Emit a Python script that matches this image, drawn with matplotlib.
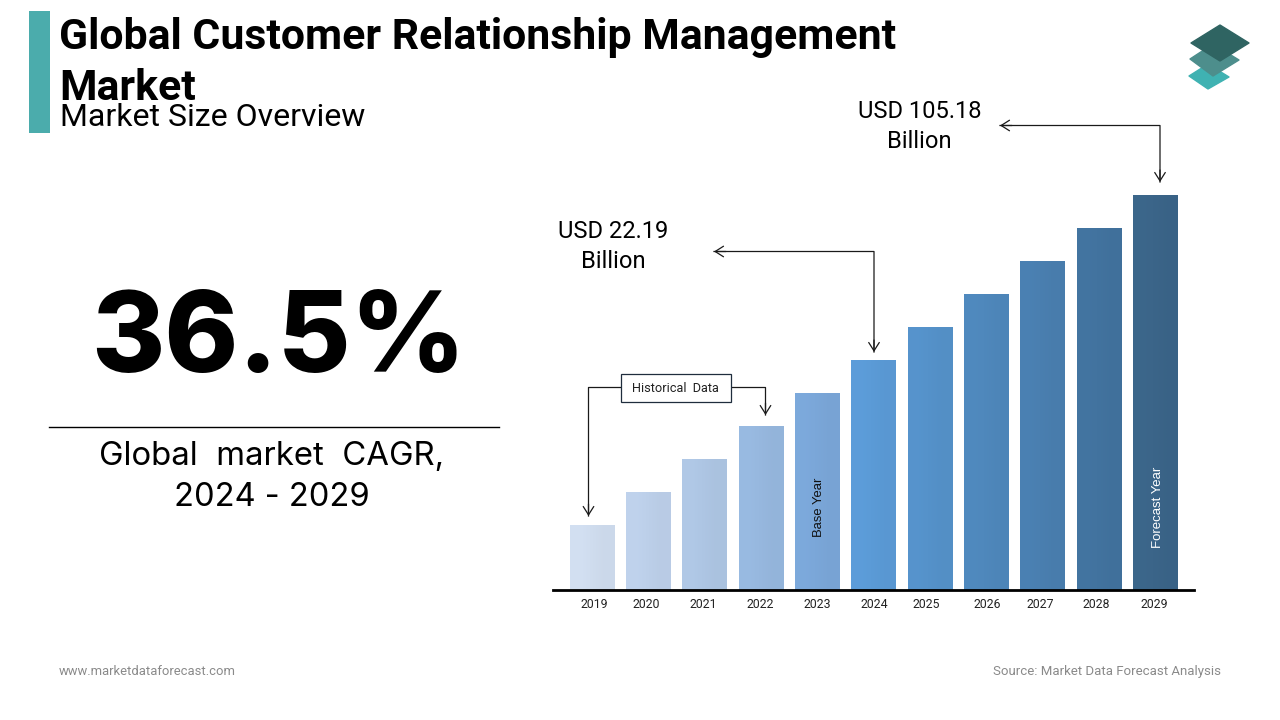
#!/usr/bin/env python3
import numpy as np
import matplotlib
matplotlib.use('Agg')
import matplotlib.pyplot as plt
from matplotlib.colors import LinearSegmentedColormap, to_rgb
from matplotlib.patches import Polygon, Rectangle

# Data
years = ['2019', '2020', '2021', '2022', '2023', '2024', '2025', '2026', '2027', '2028', '2029']
bar_heights = [65, 98, 131, 164, 197, 230, 263, 296, 329, 362, 395]
bar_colors = ['#D0DDEF', '#BDD0EA', '#AEC6E4', '#97B8DF', '#7BA7D9', '#5B9BD7',
              '#5592CA', '#4F88BC', '#4A7FB0', '#42739F', '#3B6589']
tick_shift = [2, -1.5, -1, -1, 0, 0.5, -3, 1, -2.5, -2, -1]

W, H = 1280, 720
fig = plt.figure(figsize=(12.8, 7.2), dpi=100, facecolor='white')

# Bar chart, one y unit is one pixel
left, right, base, top = 553, 1194, 590, 190
ax = fig.add_axes([left / W, 1 - base / H, (right - left) / W, (base - top) / H])
step = 56.3
xlim = ((left - 591.9) / step, (right - 591.9) / step)
x = np.arange(len(years))
bars = ax.bar(x, bar_heights, width=44.2 / step, color=bar_colors, linewidth=0)

# Slight left to right shading inside each bar
for b, c in zip(bars, bar_colors):
    rgb = np.array(to_rgb(c))
    cmap = LinearSegmentedColormap.from_list('b', [np.minimum(rgb * 1.012, 1), rgb * 0.98])
    im = ax.imshow([[0, 1]], cmap=cmap, aspect='auto', interpolation='bilinear',
                   extent=(b.get_x(), b.get_x() + b.get_width(), 0, b.get_height()), zorder=2)
    im.set_clip_path(b)
ax.set_xlim(*xlim)
ax.set_ylim(0, base - top)

ax.set_xticks(x + np.array(tick_shift) / step)
ax.set_xticklabels(years, fontsize=8.8, family='Roboto', color='#222222')
ax.tick_params(axis='x', length=0, pad=6)
ax.set_yticks([])
for s in ['top', 'left', 'right']:
    ax.spines[s].set_visible(False)
ax.spines['bottom'].set_linewidth(2)
ax.spines['bottom'].set_color('black')
ax.spines['bottom'].set_zorder(5)

# Everything else goes on a full figure overlay in pixel coordinates
ov = fig.add_axes([0, 0, 1, 1], facecolor='none')
ov.set_xlim(0, W)
ov.set_ylim(H, 0)
ov.axis('off')


def elbow(xs, ys):
    ov.plot(xs, ys, color='#1a1a1a', lw=0.9, snap=False)


def head(x0, y0, x1, y1, color='#1a1a1a'):
    ov.annotate('', xy=(x1, y1), xytext=(x0, y0),
                arrowprops=dict(arrowstyle='->,head_length=0.6,head_width=0.38', color=color,
                                lw=0.9, shrinkA=0, shrinkB=0))


def text(x, y, s, size, ha='center', family='Roboto', weight='normal', color='black', **kw):
    return ov.text(x, y, s, fontsize=size, ha=ha, va='center', family=family,
                   weight=weight, color=color, **kw)


# Header
ov.add_patch(Rectangle((29, 11), 21, 122, color='#4BACAC', lw=0))
text(59, 37.5, 'Global Customer Relationship Management', 30.8, ha='left', weight='bold')
text(59, 89, 'Market', 30.8, ha='left', weight='bold')
text(60, 117, 'Market Size Overview', 23, ha='left')

# Big number
text(278, 342.5, '36.5%', 80.5, family='Inter', weight='heavy')
ov.plot([49, 499], [427, 427], color='black', lw=1)
text(272, 456.5, 'Global  market  CAGR,', 23.7, family='Inter')
text(272, 497, '2024 - 2029', 23.5, family='Inter')

# Callouts
text(920, 112, 'USD 105.18', 17.1)
text(919, 141, 'Billion', 17.1)
elbow([1000, 1160, 1160], [125.5, 125.5, 182])
head(1012, 125.5, 1000, 125.5)
head(1160, 170, 1160, 182)

text(613, 232, 'USD 22.19', 17.1)
text(613, 261, 'Billion', 17.1)
elbow([714, 874, 874], [251.5, 251.5, 352])
head(726, 251.5, 714, 251.5)
head(874, 340, 874, 352)

# Historical data box
ov.add_patch(Rectangle((621, 373.5), 110, 28, fc='white', ec='#1F2D3D', lw=0.9, zorder=3))
text(675.5, 388, 'Historical  Data', 9.2, color='#222222', zorder=4)
elbow([621, 588.5, 588.5], [387.5, 387.5, 516])
head(588.5, 504, 588.5, 516)
elbow([731, 765.5, 765.5], [387.5, 387.5, 415])
head(765.5, 403, 765.5, 415)

# Labels inside the bars
text(819, 507.5, 'Base Year', 9.4, family='Liberation Sans', rotation=90, color='#111111')
text(1158, 507, 'Forecast Year', 9.5, family='Liberation Sans', rotation=90, color='white')

# Footer
text(59, 671.5, 'www.marketdataforecast.com', 9.4, ha='left', color='#8a8a8a')
text(1221, 671, 'Source: Market Data Forecast Analysis', 9.5, ha='right', color='#8a8a8a')

# Logo, three stacked diamonds
ov.add_patch(Polygon([(1208, 64), (1189, 76), (1208, 89), (1229, 77)], fc='#3FB2B2', ec='#3FB2B2',
                     lw=1, joinstyle='round'))
ov.add_patch(Polygon([(1213, 44), (1190, 59), (1213, 76), (1239, 60)], fc='#4D8E8C', ec='#4D8E8C',
                     lw=1, joinstyle='round'))
ov.add_patch(Polygon([(1220, 25), (1191, 43), (1220, 61), (1249, 43)], fc='#2F6462', ec='#2F6462',
                     lw=1, joinstyle='round'))

plt.savefig('out.png', dpi=100)
